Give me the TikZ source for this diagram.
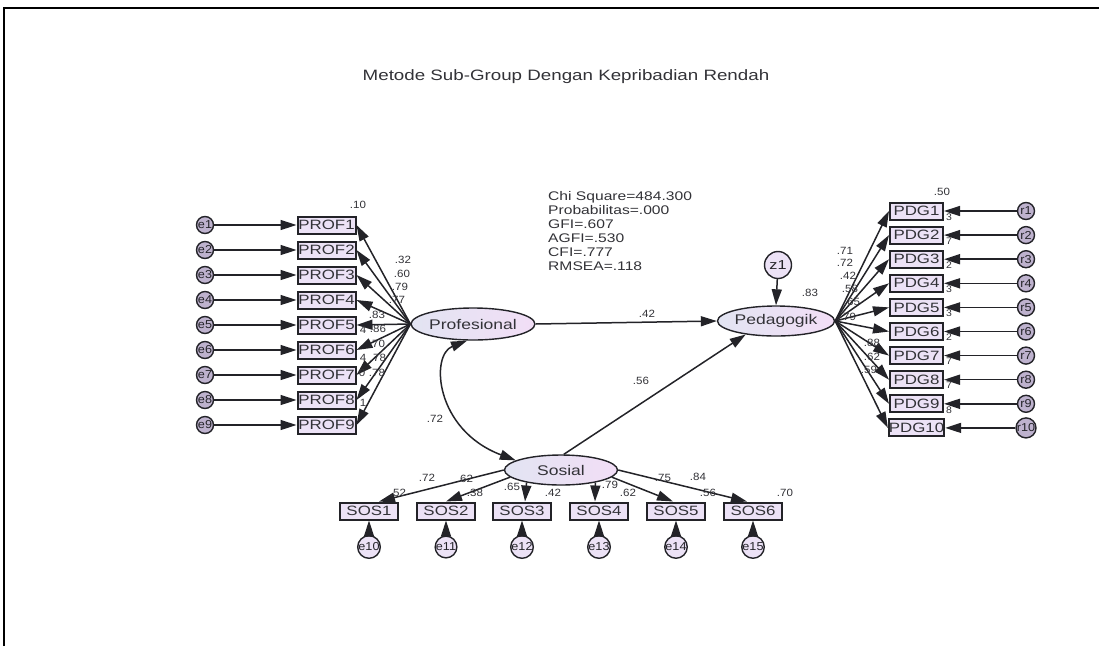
\documentclass[tikz,border=0pt]{standalone}
\usepackage{fontspec}
\setmainfont[FakeStretch=1.25]{Liberation Sans}
\newfontfamily\lblf[FakeStretch=1.1]{Liberation Sans}
\usetikzlibrary{shapes.geometric,arrows.meta}
\definecolor{boxfill}{RGB}{236,226,246}
\definecolor{ellL}{RGB}{226,228,242}
\definecolor{ellR}{RGB}{242,222,246}
\definecolor{errfill}{RGB}{190,178,206}
\definecolor{ink}{RGB}{35,35,40}
\definecolor{txt}{RGB}{50,50,55}
\begin{document}
\begin{tikzpicture}[x=1pt,y=-1pt,
 obs/.style={draw=ink, line width=2pt, fill=boxfill, inner sep=0pt, minimum width=58pt, minimum height=17pt, font=\fontsize{13.5}{14}\selectfont, text=txt},
 lat/.style={ellipse, draw=ink, line width=1.4pt, left color=ellL, right color=ellR, inner sep=0pt, minimum width=113pt, minimum height=32pt, font=\fontsize{14}{15}\selectfont, text=txt},
 err/.style={circle, draw=ink, line width=1.4pt, fill=errfill, inner sep=0pt, minimum size=17pt, font=\lblf\fontsize{11.5}{11}\selectfont, text=ink},
 arr/.style={draw=ink, line width=1.5pt, -{Triangle[length=16pt,width=10pt]}},
 barr/.style={draw=ink, line width=1.5pt, {Triangle[length=16pt,width=10pt]}-{Triangle[length=16pt,width=10pt]}},
 lbl/.style={font=\lblf\fontsize{10.5}{10}\selectfont, text=txt, inner sep=0pt},
 stat/.style={font=\fontsize{12.5}{14}\selectfont, text=txt, inner sep=0pt, anchor=base west},
]
\useasboundingbox (0,0) rectangle (1099,646);
\draw[line width=2pt] (4,646) -- (4,8) -- (1099,8);

\node[font=\fontsize{15}{16}\selectfont, text=txt] (title) at (566,77) {Metode Sub-Group Dengan Kepribadian Rendah};

\node[stat] (st1) at (548,200.5) {Chi Square=484.300};
\node[stat] (st2) at (548,214.5) {Probabilitas=.000};
\node[stat] (st3) at (548,228.5) {GFI=.607};
\node[stat] (st4) at (548,242.5) {AGFI=.530};
\node[stat] (st5) at (548,256.5) {CFI=.777};
\node[stat] (st6) at (548,270.5) {RMSEA=.118};

% latent variables
\node[lat] (prof) at (473,324) {Profesional};
\node[lat, minimum width=107pt, minimum height=30pt] (ped) at (776,321) {Pedagogik};
\node[lat, minimum height=30pt] (sos) at (561,470) {Sosial};
\node[err, minimum size=27pt, fill=boxfill, font=\fontsize{13}{13}\selectfont] (z1) at (778,265) {z1};
\draw[arr] (z1) -- (ped.north);

% PROF indicators
\foreach \i in {1,...,9}{
  \pgfmathsetmacro\yy{225+25*(\i-1)}
  \node[err] (e\i) at (205,\yy) {e\i};
  \node[obs] (p\i) at (326.5,\yy) {PROF\i};
  \draw[arr] (e\i) -- (p\i);
  \draw[arr] (prof.west) -- (p\i.east);
}

% PDG indicators
\foreach \j in {1,...,10}{
  \pgfmathsetmacro\yy{211+24.1*(\j-1)}
  \node[obs, minimum width=53pt] (d\j) at (916.5,\yy) {PDG\j};
  \node[err] (r\j) at (1026,\yy) {r\j};
  \draw[arr] (r\j) -- (d\j);
  \draw[arr] (ped.east) -- (d\j.west);
}

% SOS indicators
\foreach \k/\xx/\en in {1/369/10,2/446/11,3/522/12,4/599/13,5/676/14,6/753/15}{
  \node[obs] (s\k) at (\xx,511) {SOS\k};
  \node[err, fill=boxfill] (e\en) at (\xx,547) {e\en};
  \draw[arr] (e\en) -- (s\k);
}
\draw[arr] (sos.west) -- ([xshift=10pt]s1.north);
\draw[arr] (sos.188) -- (s2.north);
\draw[arr] (sos.200) -- ([xshift=3pt]s3.north);
\draw[arr] (sos.340) -- ([xshift=-4pt]s4.north);
\draw[arr] (sos.352) -- ([xshift=-3pt]s5.north);
\draw[arr] (sos.east) -- ([xshift=-6pt]s6.north);

% structural paths
\draw[arr] (prof.east) -- (ped.west);
\draw[arr] (sos.80) -- (ped.204);
\draw[barr] ([xshift=-6pt]prof.south) .. controls (430,355) and (435,430) .. (sos.168);

% labels: structural
\node[lbl] (l42) at (647,314) {.42};
\node[lbl] (l56) at (641,381) {.56};
\node[lbl] (l72) at (435,419) {.72};
\node[lbl] (l83) at (810,293) {.83};

% labels: PROF side
\node[lbl] (rp1) at (358,205) {.10};
\node[lbl] (lp1) at (403,260) {.32};
\node[lbl] (lp2) at (402,274) {.60};
\node[lbl] (lp3) at (400,287) {.79};
\node[lbl] (lp4) at (397,300) {.77};
\node[lbl] (lp5) at (377,315) {.83};
\node[lbl] (lp6) at (378,329) {.86};
\node[lbl] (lp7) at (377,344) {.70};
\node[lbl] (lp8) at (378,358) {.78};
\node[lbl] (lp9) at (377,373) {.78};
\node[lbl] (fp5) at (363,330) {4};
\node[lbl] (fp7) at (363,358) {4};
\node[lbl] (fp8) at (362,373) {0};
\node[lbl] (fp9) at (363,403) {1};

% labels: PDG side
\node[lbl] (rd1) at (942,192) {.50};
\node[lbl] (ld1) at (845,251) {.71};
\node[lbl] (ld2) at (845,263) {.72};
\node[lbl] (ld3) at (848,276) {.42};
\node[lbl] (ld4) at (850,289) {.58};
\node[lbl] (ld5) at (852,302) {.65};
\node[lbl] (ld6) at (848,317) {.79};
\node[lbl] (ld8) at (872,343) {.88};
\node[lbl] (ld9) at (872,357) {.62};
\node[lbl] (ld10) at (869,370) {.59};
\foreach \j/\dd in {1/3,2/7,3/2,4/3,5/3,6/2,7/7,8/7,9/8}{
  \pgfmathsetmacro\yy{217+24.1*(\j-1)}
  \node[lbl, font=\lblf\fontsize{9.5}{9}\selectfont] (fd\j) at (949,\yy) {\dd};
}

% labels: SOS side
\node[lbl] (ls1) at (427,478) {.72};
\node[lbl] (ls2) at (465,479) {.62};
\node[lbl] (rs1) at (398,493) {.52};
\node[lbl] (rs2) at (475,493) {.38};
\node[lbl] (ls3) at (512,487) {.65};
\node[lbl] (rs3) at (553,493) {.42};
\node[lbl] (ls4) at (610,485) {.79};
\node[lbl] (rs4) at (628,493) {.62};
\node[lbl] (ls5) at (663,478) {.75};
\node[lbl] (ls6) at (698,477) {.84};
\node[lbl] (rs5) at (708,493) {.56};
\node[lbl] (rs6) at (785,493) {.70};
\end{tikzpicture}
\end{document}
